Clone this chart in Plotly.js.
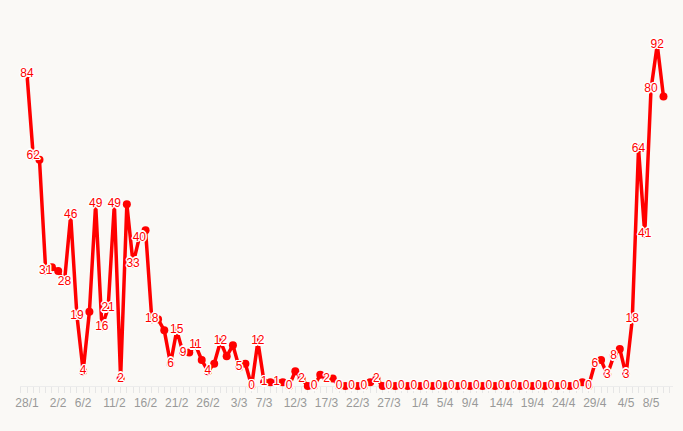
<!DOCTYPE html>
<html><head><meta charset="utf-8">
<script src="https://cdn.plot.ly/plotly-3.0.1.min.js"></script>
<style>html,body{margin:0;padding:0;background:#faf9f6;}</style>
</head><body><div id="chart" style="width:683px;height:431px;"></div>
<script>
// Daily values starting 28/1/2021
const startDate = '2021-01-28';
const cases = [
  84,62,61,31,32,31,28,46,19,4,
  20,49,16,21,49,2,49,33,40,42,
  18,18,15,6,15,9,9,11,7,4,
  6,12,8,11,5,6,0,12,1,1,
  1,1,0,4,2,0,0,3,2,2,
  0,0,0,0,0,1,2,0,0,0,
  0,0,0,0,0,0,0,0,0,0,
  0,0,0,0,0,0,0,0,0,0,
  0,0,0,0,0,0,0,0,0,1,
  0,6,7,3,8,10,3,18,64,41,
  80,92,78
];
const tickDates = ['2021-01-28','2021-02-02','2021-02-06','2021-02-11','2021-02-16','2021-02-21','2021-02-26','2021-03-03','2021-03-07','2021-03-12','2021-03-17','2021-03-22','2021-03-27','2021-04-01','2021-04-05','2021-04-09','2021-04-14','2021-04-19','2021-04-24','2021-04-29','2021-05-04','2021-05-08'];
const tickLabels = ['28/1','2/2','6/2','11/2','16/2','21/2','26/2','3/3','7/3','12/3','17/3','22/3','27/3','1/4','5/4','9/4','14/4','19/4','24/4','29/4','4/5','8/5'];

const DAY = 864e5;
const base = Date.parse(startDate + 'T00:00:00Z');
function fmt(ms){
  const d = new Date(ms);
  const p = n => String(n).padStart(2,'0');
  return d.getUTCFullYear()+'-'+p(d.getUTCMonth()+1)+'-'+p(d.getUTCDate())+' '+p(d.getUTCHours())+':'+p(d.getUTCMinutes())+':'+p(d.getUTCSeconds());
}
const dates = cases.map((_, i) => fmt(base + i*DAY));

// layout geometry
const W = 683, H = 431, mL = 20, mR = 10, mT = 15, mB = 45;
const plotW = W - mL - mR, plotH = H - mT - mB;
const padLeftDays = 1.122, padRightDays = 103.526;
const xRange = [fmt(base - padLeftDays*DAY), fmt(base + padRightDays*DAY)];
const yMax = 100;
const pxPerDay = plotW / (padLeftDays + padRightDays);
const pxPerUnit = plotH / yMax;

// hide overlapping labels (greedy, in order)
const shownBoxes = [];
const labels = cases.map((v, i) => {
  const cx = i*pxPerDay, cy = -v*pxPerUnit, w = String(v).length*6.6, h = 16;
  const ok = shownBoxes.every(s => Math.abs(s.cx-cx) >= (s.w+w)/2 || Math.abs(s.cy-cy) >= h);
  if (ok) { shownBoxes.push({cx, cy, w}); return String(v); }
  return '';
});

const red = '#ff0000';
const halo = '1px 1px 0 #fff, -1px -1px 0 #fff, 1px -1px 0 #fff, -1px 1px 0 #fff, 0 1.5px 0 #fff, 0 -1.5px 0 #fff, 1.5px 0 0 #fff, -1.5px 0 0 #fff, 0 0 2px #fff';

const traces = [
  {x: dates, y: cases, type: 'scatter', mode: 'lines+markers',
   line: {color: red, width: 3.5}, marker: {color: red, size: 8},
   cliponaxis: false, hoverinfo: 'skip', showlegend: false},
  {x: dates, y: cases, type: 'scatter', mode: 'text', text: labels,
   textposition: 'middle center',
   textfont: {color: red, size: 12, family: 'Liberation Sans, Arial, sans-serif', shadow: halo},
   cliponaxis: false, hoverinfo: 'skip', showlegend: false}
];

const layout = {
  width: W, height: H,
  margin: {l: mL, r: mR, t: mT, b: mB, pad: 0},
  paper_bgcolor: '#faf9f6', plot_bgcolor: '#faf9f6',
  showlegend: false,
  xaxis: {
    type: 'date', range: xRange, layer: 'below traces',
    tickmode: 'array', tickvals: tickDates, ticktext: tickLabels,
    ticks: 'outside', ticklen: 6, tickcolor: '#e6e6e6', tickwidth: 1,
    minor: {dtick: DAY, tick0: startDate, ticks: 'outside', ticklen: 6, tickcolor: '#e6e6e6', tickwidth: 1, showgrid: false},
    showline: true, linecolor: '#ececec', linewidth: 1,
    showgrid: false, zeroline: false,
    tickfont: {family: 'Liberation Sans, Arial, sans-serif', size: 12, color: '#999999'}
  },
  yaxis: {
    range: [0, yMax], showgrid: false, zeroline: false, showline: false,
    showticklabels: false, ticks: '', layer: 'below traces'
  }
};

Plotly.newPlot('chart', traces, layout, {staticPlot: true, displayModeBar: false});
</script>
</body></html>
